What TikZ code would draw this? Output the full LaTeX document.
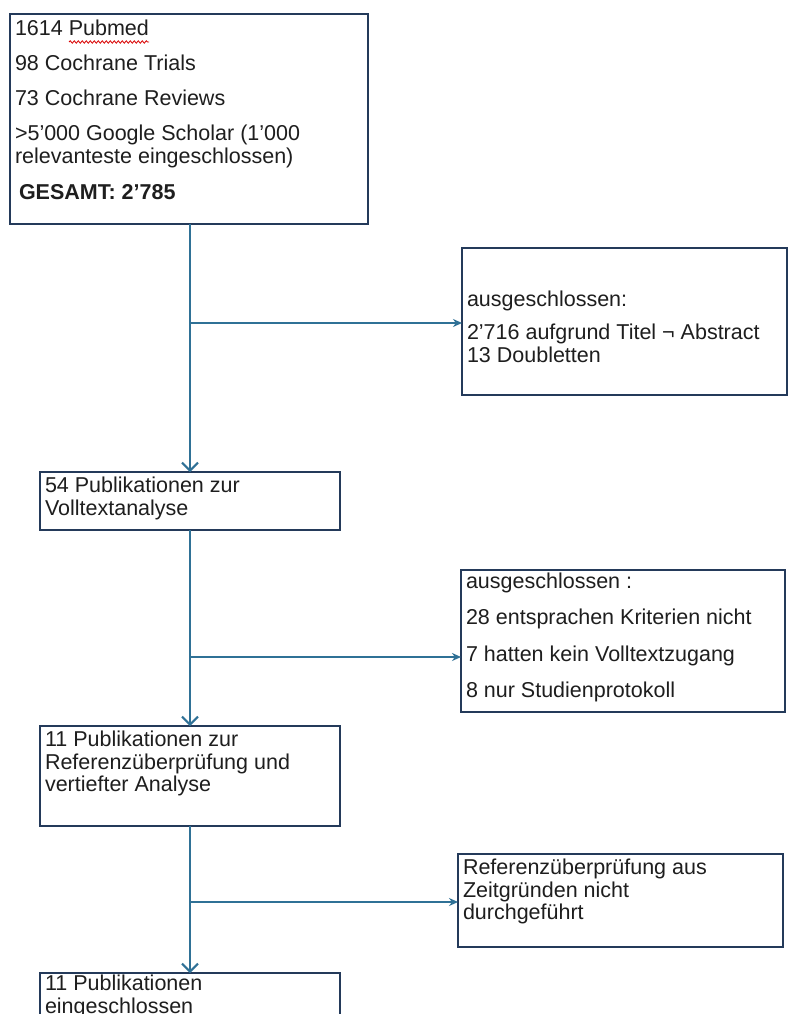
\documentclass[tikz,border=0pt]{standalone}
\usepackage{fontspec}
\setmainfont{Liberation Sans}
\usetikzlibrary{arrows.meta,decorations.pathmorphing}
\definecolor{boxc}{HTML}{243A5A}
\definecolor{linec}{HTML}{2F7196}
\definecolor{txt}{HTML}{1E1E1E}
\newcommand\boxtext[4]{\parbox[c][#2][t]{#1}{\leftskip=5pt\rightskip=0pt plus 1fil\parindent=0pt\parskip=0pt\baselineskip=22.5pt\vspace*{#3}\strut #4}}
\tikzset{
  box/.style={draw=boxc, line width=2pt, inner sep=0pt, outer sep=0pt, anchor=north west, fill=white,
    font=\fontsize{21.5pt}{22.5pt}\selectfont, text=txt},
  conn/.style={draw=linec, line width=2pt},
  varrow/.style={conn, -{Straight Barb[length=8pt,width=16pt,line width=2pt]}},
  harrow/.style={conn, -{Stealth[length=9pt,width=8pt]}}
}
\begin{document}
\begin{tikzpicture}[x=1pt,y=-1pt]
\useasboundingbox[fill=white] (0,0) rectangle (792,1014);
\clip (0,0) rectangle (792,1014);
\node[box] (b1) at (10,14) {\boxtext{358pt}{210pt}{6pt}{1614 Pubmed\\[12.5pt]98 Cochrane Trials\\[12.5pt]73 Cochrane Reviews\\[12.5pt]>5’000 Google Scholar (1’000\\relevanteste eingeschlossen)\\[14pt]\hspace*{4pt}\textbf{GESAMT: 2’785}}};
\node[box] (r1) at (462,248) {\boxtext{325pt}{147pt}{43pt}{ausgeschlossen:\\[10.5pt]2’716 aufgrund Titel ¬ Abstract\\13 Doubletten}};
\node[box] (b2) at (40,472) {\boxtext{300pt}{58pt}{5pt}{54 Publikationen zur\\Volltextanalyse}};
\node[box] (r2) at (461,570) {\boxtext{324pt}{142pt}{2.5pt}{ausgeschlossen :\\[14pt]28 entsprachen Kriterien nicht\\[14pt]7 hatten kein Volltextzugang\\[14pt]8 nur Studienprotokoll}};
\node[box] (b3) at (40,726) {\boxtext{300pt}{100pt}{5pt}{11 Publikationen zur\\Referenzüberprüfung und\\vertiefter Analyse}};
\node[box] (r3) at (458,854) {\boxtext{325pt}{93pt}{5pt}{Referenzüberprüfung aus\\Zeitgründen nicht\\durchgeführt}};
\node[box] (b4) at (40,973) {\boxtext{300pt}{70pt}{2pt}{11 Publikationen\\eingeschlossen}};
% spellcheck squiggle under "Pubmed"
\draw[red!85!black, line width=0.8pt, decorate, decoration={snake, amplitude=1.2pt, segment length=4pt}]
  ([xshift=59pt,yshift=-28pt]b1.north west) -- ([xshift=139pt,yshift=-28pt]b1.north west);
% junctions
\coordinate (j1) at (b2.north |- 0,323);
\coordinate (j2) at (b2.north |- 0,657);
\coordinate (j3) at (b2.north |- 0,902);
% vertical connectors
\draw[varrow] (b1.south -| b2.north) -- (b2.north);
\draw[varrow] (b2.south) -- (b3.north);
\draw[varrow] (b3.south) -- (b4.north);
% side connectors
\draw[harrow] (j1) -- (j1 -| r1.west);
\draw[harrow] (j2) -- (j2 -| r2.west);
\draw[harrow] (j3) -- (j3 -| r3.west);
\end{tikzpicture}
\end{document}
